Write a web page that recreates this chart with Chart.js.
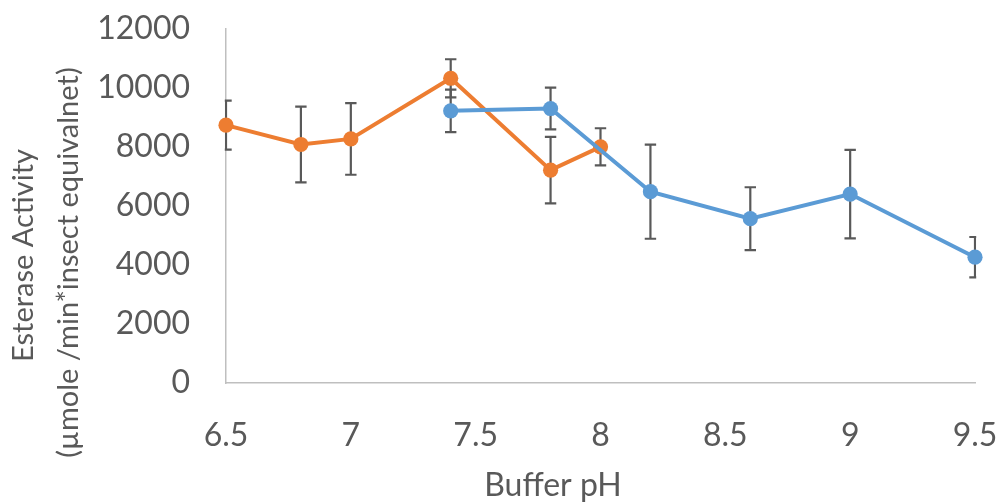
<!DOCTYPE html>
<html>
<head>
<meta charset="utf-8">
<script src="https://cdn.jsdelivr.net/npm/chart.js@4/dist/chart.umd.min.js"></script>
<style>
  html, body { margin: 0; padding: 0; background: #ffffff; }
  #wrap { width: 1001px; height: 503px; }
  canvas { display: block; }
</style>
</head>
<body>
<div id="wrap"><canvas id="chart" width="1001" height="503"></canvas></div>
<script>
// Esterase activity versus buffer pH, two buffer series with standard-error bars
const phOrange = [6.5, 6.8, 7.0, 7.4, 7.8, 8.0];
const activityOrange = [8740, 8085, 8275, 10330, 7215, 8005];
const errorOrange = [830, 1285, 1215, 645, 1125, 630];

const phBlue = [7.4, 7.8, 8.2, 8.6, 9.0, 9.5];
const activityBlue = [9225, 9305, 6485, 5570, 6405, 4265];
const errorBlue = [720, 705, 1595, 1065, 1500, 685];

const xTickValues = [6.5, 7, 7.5, 8, 8.5, 9, 9.5];
const yTickValues = [0, 2000, 4000, 6000, 8000, 10000, 12000];

const xTitle = 'Buffer pH';
const yTitleLines = ['Esterase Activity', '(µmole /min*insect equivalnet)'];

const ORANGE = '#ED7D31';
const BLUE = '#5B9BD5';
const TEXT = '#595959';
const AXIS = '#bfbfbf';
const FONT = 'Lato, "Open Sans", sans-serif';

const toPoints = (xs, ys) => xs.map((v, i) => ({ x: v, y: ys[i] }));

function series(label, xs, ys, errs, color) {
  return {
    label,
    data: toPoints(xs, ys),
    errors: errs,
    borderColor: color,
    backgroundColor: color,
    borderWidth: 4,
    pointRadius: 7.6,
    pointHoverRadius: 7.6,
    pointBorderWidth: 0,
    pointBackgroundColor: color,
    tension: 0,
    clip: false
  };
}

// vertical error bars with caps, drawn under the lines and markers
const errorBars = {
  id: 'errorBars',
  beforeDatasetsDraw(chart) {
    const { ctx, chartArea: a, scales: { x, y } } = chart;
    ctx.save();
    ctx.beginPath();
    ctx.rect(a.left - 1.2, a.top - 30, a.right - a.left + 2.4, a.bottom - a.top + 60);
    ctx.clip();
    ctx.strokeStyle = '#595959';
    ctx.lineWidth = 2.2;
    const cap = 5.7;
    chart.data.datasets.forEach(ds => {
      ds.data.forEach((p, i) => {
        const e = ds.errors[i];
        const px = x.getPixelForValue(p.x);
        const top = y.getPixelForValue(p.y + e);
        const bot = y.getPixelForValue(p.y - e);
        ctx.beginPath();
        ctx.moveTo(px, top); ctx.lineTo(px, bot);
        ctx.moveTo(px - cap, top); ctx.lineTo(px + cap, top);
        ctx.moveTo(px - cap, bot); ctx.lineTo(px + cap, bot);
        ctx.stroke();
      });
    });
    ctx.restore();
  }
};

// axis titles
const axisTitles = {
  id: 'axisTitles',
  afterDraw(chart) {
    const ctx = chart.ctx;
    ctx.save();
    ctx.fillStyle = TEXT;
    ctx.textAlign = 'center';
    ctx.textBaseline = 'middle';
    ctx.font = '32px ' + FONT;
    ctx.fillText(xTitle, 553, 486);
    const yPos = [[23.3, 255.5], [68.5, 262.5]];
    ctx.font = '29px ' + FONT;
    yTitleLines.forEach((line, i) => {
      ctx.save();
      ctx.translate(yPos[i][0], yPos[i][1]);
      ctx.rotate(-Math.PI / 2);
      ctx.fillText(line, 0, 0);
      ctx.restore();
    });
    ctx.restore();
  }
};

const tickFont = { family: FONT, size: 32, lineHeight: 1.2 };

new Chart(document.getElementById('chart'), {
  type: 'line',
  data: {
    datasets: [
      series('Blue', phBlue, activityBlue, errorBlue, BLUE),
      series('Orange', phOrange, activityOrange, errorOrange, ORANGE)
    ]
  },
  options: {
    responsive: false,
    animation: false,
    devicePixelRatio: 1,
    layout: { padding: { left: 0, right: 26, top: 29, bottom: 0 } },
    plugins: { legend: { display: false }, tooltip: { enabled: false } },
    scales: {
      x: {
        type: 'linear',
        min: xTickValues[0],
        max: xTickValues[xTickValues.length - 1],
        afterBuildTicks: s => { s.ticks = xTickValues.map(v => ({ value: v })); },
        afterFit: s => { s.height = 120; s.paddingLeft = 0; s.paddingRight = 0; },
        grid: { display: false, drawTicks: false },
        border: { display: true, color: AXIS, width: 1.5 },
        ticks: {
          padding: 33, color: TEXT, font: tickFont,
          maxRotation: 0, autoSkip: false,
          callback: v => String(v)
        }
      },
      y: {
        type: 'linear',
        min: yTickValues[0],
        max: yTickValues[yTickValues.length - 1],
        afterBuildTicks: s => { s.ticks = yTickValues.map(v => ({ value: v })); },
        afterFit: s => { s.width = 226; s.paddingTop = 0; s.paddingBottom = 0; },
        grid: { display: false, drawTicks: false },
        border: { display: true, color: AXIS, width: 1.5 },
        ticks: {
          padding: 36, color: TEXT, font: tickFont,
          autoSkip: false,
          callback: v => String(v)
        }
      }
    }
  },
  plugins: [errorBars, axisTitles]
});
</script>
</body>
</html>
